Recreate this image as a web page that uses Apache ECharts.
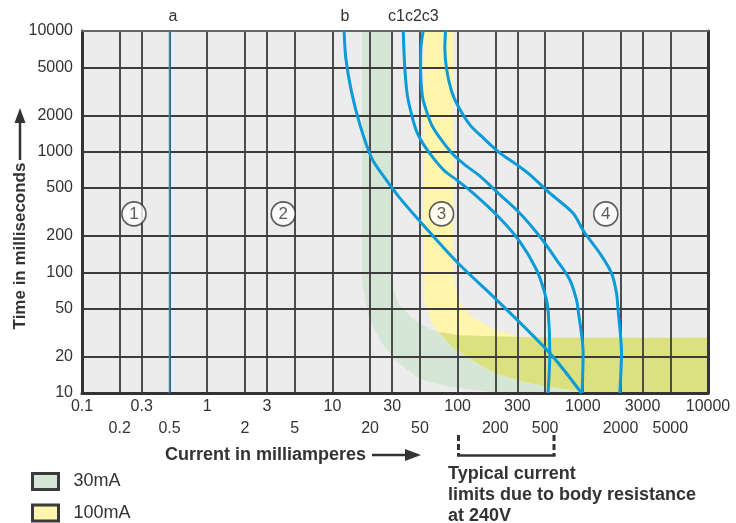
<!DOCTYPE html>
<html><head><meta charset="utf-8">
<script src="https://cdn.jsdelivr.net/npm/echarts@6/dist/echarts.min.js"></script>
<style>html,body{margin:0;padding:0;background:#fff}#c{width:736px;height:523px}</style>
</head><body><div id="c"></div>
<script>
const FONT = "'Liberation Sans', Arial, Helvetica, sans-serif";

// ---- axis ticks ----
const xTicks = [0.1,0.2,0.3,0.5,1,2,3,5,10,20,30,50,100,200,300,500,1000,2000,3000,5000,10000];
const xLabelsUpper = [0.1,0.3,1,3,10,30,100,300,1000,3000,10000];
const xLabelsLower = [0.2,0.5,2,5,20,50,200,500,2000,5000];
const yTicks = [10,20,50,100,200,500,1000,2000,5000,10000];

// ---- curves: [current mA, time ms] ----
const curveA = [[0.5,10],[0.5,10000]];
const curveB = [[12.4,10000],[12.8,5943],[14.2,3144],[16.6,1666],[20.6,883],[26.3,603],[34.6,412],[53.1,247],[101,119],[205,59.2],[545,21.4],[976,10]];
const curveC1 = [[36.8,10000],[37.2,7230],[37.9,4872],[39.6,2969],[42.9,2028],[47.0,1477],[53.1,1160],[63.8,888],[79.1,689],[98.1,584],[133,453],[211,290],[314,180],[427,105],[497,67.3],[528,48.9],[545,21.4],[528,10]];
const curveC2 = [[53.1,10000],[50.9,7230],[50.6,4872],[52.1,2969],[54.8,2379],[61.9,1676],[72.2,1300],[92.2,946],[118,758],[151,627],[211,453],[314,309],[454,198],[617,127],[787,86.8],[891,59.2],[917,48.9],[1006,21.6],[987,10]];
const curveC3 = [[80.1,10000],[79.1,7230],[81.6,4872],[89.5,3168],[101,2379],[125,1676],[160,1300],[217,977],[296,781],[377,646],[545,453],[837,309],[1019,218],[1367,144],[1695,98.6],[1858,67.3],[1913,48.9],[2037,21.6],[1974,10]];

// ---- shaded bands ----
const band30Outer = [[17.3,10000],[17.3,82],[19.3,43.1],[24.7,26],[33.5,17.7],[51.6,12.9],[84.1,11.3],[175,10.3],[261,10],[10000,10]];
const band30Inner = [[10000,28.7],[545,28.7],[104,30.1],[69.9,32.2],[54.8,35.4],[42.9,42],[33.5,55.6],[29.9,78.8],[29.3,10000]];
const band100Outer = [[54.1,10000],[54.1,59.2],[61.9,38],[69.9,32.4],[89.5,24.3],[129,18.9],[198,14.6],[324,12.5],[528,11.3],[1137,10],[10000,10]];
const band100Inner = [[10000,28.7],[528,28],[324,29.1],[198,33.4],[129,43.1],[101,59.2],[92.2,92.4],[92.2,10000]];
const bandOverlap = [[69.9,32.2],[104,30.1],[545,28.7],[10000,28.7],[10000,10],[1137,10],[528,11.3],[324,12.5],[198,14.6],[129,18.9],[89.5,24.3],[69.9,32.4]];

// ---- zone markers ----
const zoneNames = ['1','2','3','4'];
const zoneX = [0.26,4.05,74.4,1526];
const zoneY = [305,305,305,305];

const BLUE = '#0a9bd8';
const TXT = '#333';
const GRID = '#3c3c3c';

function polySeries(name, pts, color, z) {
  return {
    name: name, type: 'custom', coordinateSystem: 'cartesian2d', z: z, silent: true,
    itemStyle: {color: color},
    data: [[1,100]], encode: {x:0, y:1},
    renderItem: function (params, api) {
      return {type:'polygon', shape:{points: pts.map(function(p){return api.coord(p);})}, style:{fill: color}};
    }
  };
}
function curve(name, data, width) {
  return {name:name, type:'line', data:data, showSymbol:false, smooth: width > 2 ? 0.3 : false, z:3, silent:true,
    lineStyle:{color:BLUE, width:width}, itemStyle:{color:BLUE}};
}
const labelBase = {color:TXT, fontSize:16, fontFamily:FONT, lineHeight:21, showMinLabel:true, showMaxLabel:true,
  formatter:function(v){ return String(v); }};

const chart = echarts.init(document.getElementById('c'));
chart.setOption({
  animation: false,
  grid: {left:82, top:31, width:626, height:362, show:true, backgroundColor:'#ececec', borderWidth:0, z:-10},
  xAxis: [{
    type:'log', logBase:10, min:0.1, max:10000, position:'bottom',
    axisLine:{show:true, onZero:false, lineStyle:{color:'#333', width:3}},
    axisTick:{show:false, customValues:xTicks},
    splitLine:{show:true, lineStyle:{color:GRID, width:1.8}},
    axisLabel:Object.assign({customValues:xLabelsUpper, margin:3}, labelBase)
  }, {
    type:'log', logBase:10, min:0.1, max:10000, position:'top',
    axisLine:{show:true, onZero:false, lineStyle:{color:'#666', width:2}},
    axisTick:{show:false}, axisLabel:{show:false}, splitLine:{show:false}
  }, {
    type:'log', logBase:10, min:0.1, max:10000, position:'bottom', offset:0,
    axisLine:{show:false}, axisTick:{show:false}, splitLine:{show:false},
    axisLabel:Object.assign({customValues:xLabelsLower, margin:25}, labelBase)
  }],
  yAxis: [{
    type:'log', logBase:10, min:10, max:10000,
    axisLine:{show:true, onZero:false, lineStyle:{color:'#333', width:3}},
    axisTick:{show:false, customValues:yTicks},
    splitLine:{show:true, lineStyle:{color:GRID, width:1.8}},
    axisLabel:{customValues:yTicks, color:TXT, fontSize:16, fontFamily:FONT, margin:9,
      showMinLabel:true, showMaxLabel:true,
      formatter:function(v){ return String(v); }}
  }, {
    type:'log', logBase:10, min:10, max:10000, position:'right',
    axisLine:{show:true, onZero:false, lineStyle:{color:'#333', width:3}},
    axisTick:{show:false}, axisLabel:{show:false}, splitLine:{show:false}
  }],
  legend: {
    data:['30mA','100mA'], orient:'vertical', left:31, top:472, height:80, padding:0, icon:'rect',
    itemWidth:26, itemHeight:16, itemGap:12.5, selectedMode:false,
    itemStyle:{borderColor:'#3a3a3a', borderWidth:3},
    textStyle:{fontSize:18, lineHeight:16, color:TXT, fontFamily:FONT, padding:[0,0,0,10]}
  },
  series: [
    polySeries('30mA', band30Outer.concat(band30Inner), '#d5e6d6', -1),
    polySeries('100mA', band100Outer.concat(band100Inner), '#fff5ad', -1),
    polySeries('overlap', bandOverlap, '#dce17f', -1),
    curve('a', curveA, 1.5),
    curve('b', curveB, 3),
    curve('c1', curveC1, 3),
    curve('c2', curveC2, 3),
    curve('c3', curveC3, 3),
    {name:'zones', type:'scatter', z:4, silent:true, symbol:'circle', symbolSize:24,
      itemStyle:{color:'#fff', borderColor:'#333', borderWidth:1.6},
      label:{show:true, position:'inside', formatter:'{b}', color:TXT, fontSize:17, fontFamily:FONT},
      data: zoneNames.map(function(n,i){ return {name:n, value:[zoneX[i], zoneY[i]]}; })}
  ],
  graphic: [
    {type:'text', x:173, y:17, style:{text:'a', align:'center', verticalAlign:'middle', fontSize:16, fontFamily:FONT, fill:TXT}},
    {type:'text', x:345, y:17, style:{text:'b', align:'center', verticalAlign:'middle', fontSize:16, fontFamily:FONT, fill:TXT}},
    {type:'text', x:388, y:17, style:{text:'c1c2c3', align:'left', verticalAlign:'middle', fontSize:16, fontFamily:FONT, fill:TXT}},
    {type:'text', x:20, y:246, rotation:Math.PI/2, style:{text:'Time in milliseconds', align:'center', verticalAlign:'middle', fontSize:17, fontWeight:'bold', fontFamily:FONT, fill:TXT}},
    {type:'line', shape:{x1:20, y1:160, x2:20, y2:121}, style:{stroke:TXT, lineWidth:2.5}},
    {type:'polygon', shape:{points:[[14.5,123],[20,108],[25.5,123]]}, style:{fill:TXT}},
    {type:'text', x:165, y:455, style:{text:'Current in milliamperes', align:'left', verticalAlign:'middle', fontSize:18, fontWeight:'bold', fontFamily:FONT, fill:TXT}},
    {type:'line', shape:{x1:372, y1:455, x2:407, y2:455}, style:{stroke:TXT, lineWidth:2.5}},
    {type:'polygon', shape:{points:[[405,449],[421,455],[405,461]]}, style:{fill:TXT}},
    {type:'line', shape:{x1:458.5, y1:435, x2:458.5, y2:456}, style:{stroke:TXT, lineWidth:3, lineDash:[6,3]}},
    {type:'line', shape:{x1:554, y1:435, x2:554, y2:456}, style:{stroke:TXT, lineWidth:3, lineDash:[6,3]}},
    {type:'line', shape:{x1:457, y1:455.5, x2:555.5, y2:455.5}, style:{stroke:TXT, lineWidth:2.5}},
    {type:'text', x:448, y:463.5, style:{text:'Typical current\nlimits due to body resistance\nat 240V', align:'left', verticalAlign:'top', fontSize:18, lineHeight:21, fontWeight:'bold', fontFamily:FONT, fill:TXT}}
  ]
});
</script></body></html>
